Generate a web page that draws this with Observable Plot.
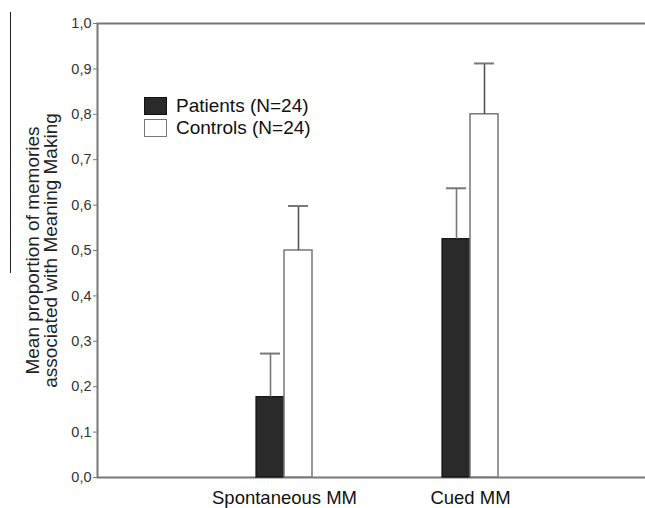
<!DOCTYPE html>
<html>
<head>
<meta charset="utf-8">
<script src="https://cdn.jsdelivr.net/npm/d3@7"></script>
<script src="https://cdn.jsdelivr.net/npm/@observablehq/plot@0.6"></script>
<style>
  html, body { margin: 0; padding: 0; background: #fff; }
  #wrap { position: relative; width: 645px; height: 508px; font-family: "Liberation Sans", Arial, sans-serif; }
  #legend { position: absolute; left: 144px; top: 95px; font-size: 19px; color: #111; }
  .li { display: flex; align-items: center; height: 22px; }
  .sw { width: 21px; height: 16px; margin-right: 9px; box-sizing: content-box; }
  #stray { position: absolute; left: 10px; top: 12px; width: 1px; height: 261px; background: #222; }
</style>
</head>
<body>
<div id="wrap"><div id="stray"></div></div>
<script>
// ---- data ----
const groups = ["Spontaneous MM", "Cued MM"];
const series = ["Patients (N=24)", "Controls (N=24)"];
const patientMeans = [0.177, 0.525];
const patientUpper = [0.273, 0.637];
const controlMeans = [0.50, 0.80];
const controlUpper = [0.598, 0.912];
const yTicks = [0, 0.1, 0.2, 0.3, 0.4, 0.5, 0.6, 0.7, 0.8, 0.9, 1.0];
const yTitle = "Mean proportion of memories\nassociated with Meaning Making";

const patients = groups.map((g, i) => ({group: g, mean: patientMeans[i], upper: patientUpper[i]}));
const controls = groups.map((g, i) => ({group: g, mean: controlMeans[i], upper: controlUpper[i]}));

const dark = "#2a2a2a";
const gray = "#777777";

const chart = Plot.plot({
  width: 645,
  height: 508,
  marginLeft: 97,
  marginRight: 0,
  marginTop: 23,
  marginBottom: 31,
  style: {fontFamily: "Liberation Sans, Arial, sans-serif", background: "#fff"},
  x: {domain: groups, type: "band", paddingInner: 0.699, paddingOuter: 0.8226, align: 0.52, label: null},
  y: {domain: [0, 1], label: null},
  marks: [
    Plot.frame({stroke: gray, strokeWidth: 2, insetRight: -10}),
    Plot.barY(patients, {x: "group", y: "mean", insetRight: 28, fill: dark, stroke: "#111", strokeWidth: 1.2}),
    Plot.barY(controls, {x: "group", y: "mean", insetLeft: 28, fill: "#fff", stroke: gray, strokeWidth: 1.5}),
    Plot.ruleX(patients, {x: "group", y1: "mean", y2: "upper", dx: -14, stroke: gray, strokeWidth: 1.6}),
    Plot.ruleX(controls, {x: "group", y1: "mean", y2: "upper", dx: 14, stroke: "#555", strokeWidth: 1.6}),
    Plot.tickY(patients, {x: "group", y: "upper", insetLeft: 4, insetRight: 32, stroke: gray, strokeWidth: 2}),
    Plot.tickY(controls, {x: "group", y: "upper", insetLeft: 32, insetRight: 4, stroke: gray, strokeWidth: 2}),
    Plot.axisY({ticks: yTicks, tickFormat: d => d.toFixed(1).replace(".", ","), tickSize: 4, tickPadding: 2,
      fontSize: 14.5, stroke: gray, fill: "#333", label: null}),
    Plot.axisX({tickSize: 0, tickPadding: 13, fontSize: 18.5, fill: "#111", label: null}),
    Plot.text([yTitle], {frameAnchor: "left", textAnchor: "middle", lineAnchor: "middle", rotate: -90, dx: -55,
      fontSize: 19, lineHeight: 0.95, fill: "#222"})
  ]
});

const wrap = document.getElementById("wrap");
wrap.appendChild(chart);

// legend (HTML, drawn above the plot area)
const legend = document.createElement("div");
legend.id = "legend";
const swatches = [{fill: dark, stroke: "#111"}, {fill: "#fff", stroke: gray}];
series.forEach((s, i) => {
  const row = document.createElement("div");
  row.className = "li";
  const sw = document.createElement("span");
  sw.className = "sw";
  sw.style.background = swatches[i].fill;
  sw.style.border = "1px solid " + swatches[i].stroke;
  const t = document.createElement("span");
  t.textContent = s;
  row.appendChild(sw);
  row.appendChild(t);
  legend.appendChild(row);
});
wrap.appendChild(legend);
</script>
</body>
</html>
